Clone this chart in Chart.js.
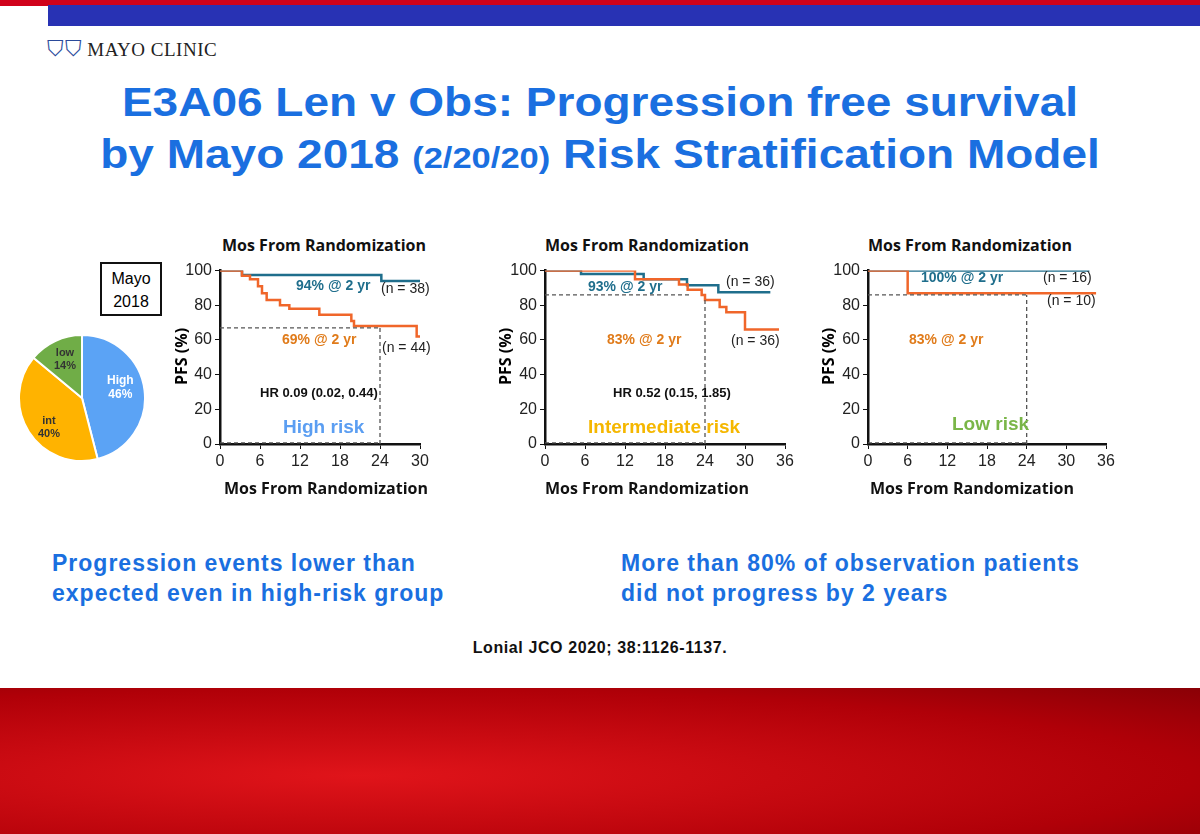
<!DOCTYPE html>
<html><head><meta charset="utf-8">
<script src="https://cdn.jsdelivr.net/npm/chart.js@4"></script>
<style>
body{margin:0;width:1200px;height:834px;position:relative;overflow:hidden;background:#fff;font-family:Arial,"Liberation Sans",sans-serif}
.a{position:absolute;white-space:nowrap}
.t{font-weight:bold;color:#1a6fe0;font-size:40px;left:0;width:1200px;text-align:center;transform:scaleX(1.15)}
.lab{font-weight:bold;font-size:14px}
.mos{font-weight:bold;font-size:16px;color:#111;font-family:"Open Sans",Arial,sans-serif}
.pfs{font-weight:bold;font-size:16px;transform:rotate(-90deg);transform-origin:left top;font-family:"Open Sans",Arial,sans-serif}
.n{font-size:14px;color:#222}
canvas{position:absolute}
.b{font-weight:bold;color:#1a6fe0;font-size:23px;letter-spacing:1px;line-height:30px}
</style></head><body>
<div class="a" style="left:0;top:0;width:1200px;height:6px;background:#d0021b"></div>
<div class="a" style="left:48px;top:5px;width:1152px;height:21px;background:#2832b4"></div>
<div class="a" style="left:47px;top:36px;font-family:'Liberation Serif',serif;font-size:19px;color:#222;letter-spacing:0.5px"><span style="color:#2a4a9a;font-size:22px">⛉⛉</span> MAYO CLINIC</div>
<div class="a t" style="top:80px">E3A06 Len v Obs: Progression free survival</div>
<div class="a t" style="top:132px">by Mayo 2018 <span style="font-size:30px">(2/20/20)</span> Risk Stratification Model</div>

<div class="a" style="left:100px;top:262px;width:62px;height:54px;border:2px solid #111;font-size:16px;text-align:center;line-height:23px;padding-top:3px;box-sizing:border-box">Mayo<br>2018</div>
<canvas id="pie" style="left:16px;top:332px;width:132px;height:132px"></canvas>
<div class="a lab" style="left:54px;top:346px;font-size:11px;color:#333;text-align:center;line-height:13px">low<br>14%</div>
<div class="a lab" style="left:107px;top:373px;font-size:12px;color:#fff;text-align:center;line-height:14px">High<br>46%</div>
<div class="a lab" style="left:38px;top:414px;font-size:11px;color:#333;text-align:center;line-height:13px">int<br>40%</div>

<canvas id="c1" style="left:170px;top:258px;width:270px;height:220px"></canvas>
<canvas id="c2" style="left:495px;top:258px;width:310px;height:220px"></canvas>
<canvas id="c3" style="left:818px;top:258px;width:308px;height:220px"></canvas>

<div class="a mos" style="left:222px;top:234px">Mos From Randomization</div>
<div class="a mos" style="left:545px;top:234px">Mos From Randomization</div>
<div class="a mos" style="left:868px;top:234px">Mos From Randomization</div>
<div class="a mos" style="left:224px;top:477px">Mos From Randomization</div>
<div class="a mos" style="left:545px;top:477px">Mos From Randomization</div>
<div class="a mos" style="left:870px;top:477px">Mos From Randomization</div>
<div class="a pfs" style="left:170px;top:385px">PFS (%)</div>
<div class="a pfs" style="left:494px;top:385px">PFS (%)</div>
<div class="a pfs" style="left:817px;top:385px">PFS (%)</div>

<div class="a lab" style="left:296px;top:277px;color:#1f6e8c">94% @ 2 yr</div>
<div class="a n" style="left:381px;top:280px">(n = 38)</div>
<div class="a lab" style="left:282px;top:331px;color:#e07b1a">69% @ 2 yr</div>
<div class="a n" style="left:382px;top:339px">(n = 44)</div>
<div class="a lab" style="left:260px;top:385px;font-size:13px;color:#111">HR 0.09 (0.02, 0.44)</div>
<div class="a lab" style="left:283px;top:416px;font-size:19px;color:#5b9ef2">High risk</div>

<div class="a lab" style="left:588px;top:278px;color:#1f6e8c">93% @ 2 yr</div>
<div class="a n" style="left:726px;top:273px">(n = 36)</div>
<div class="a lab" style="left:607px;top:331px;color:#e07b1a">83% @ 2 yr</div>
<div class="a n" style="left:731px;top:332px">(n = 36)</div>
<div class="a lab" style="left:613px;top:385px;font-size:13px;color:#111">HR 0.52 (0.15, 1.85)</div>
<div class="a lab" style="left:588px;top:416px;font-size:19px;color:#f5b700">Intermediate risk</div>

<div class="a lab" style="left:921px;top:269px;color:#1f6e8c">100% @ 2 yr</div>
<div class="a n" style="left:1043px;top:269px">(n = 16)</div>
<div class="a n" style="left:1047px;top:292px">(n = 10)</div>
<div class="a lab" style="left:909px;top:331px;color:#e07b1a">83% @ 2 yr</div>
<div class="a lab" style="left:952px;top:413px;font-size:19px;color:#7ab648">Low risk</div>

<div class="a b" style="left:52px;top:548px">Progression events lower than<br>expected even in high-risk group</div>
<div class="a b" style="left:621px;top:548px">More than 80% of observation patients<br>did not progress by 2 years</div>
<div class="a" style="left:0;width:1200px;text-align:center;top:639px;font-weight:bold;font-size:16px;letter-spacing:0.6px;color:#111">Lonial JCO 2020; 38:1126-1137.</div>
<div class="a" style="left:0;top:688px;width:1200px;height:146px;background:radial-gradient(ellipse at 30% 60%,#e0141a,#b00008 70%,#8a0006)"></div>

<script>
// Pie
const pieLabels=["High","int","low"];
const pieValues=[46,40,14];
// High risk (months, PFS %)
const hiLenX=[0,3.3,24.2,31];   const hiLenY=[100,97.5,94,94];
const hiObsX=[0,3.3,4.5,5.7,6.3,7,9,10.4,14.9,19.7,20.1,29.5,30.8];
const hiObsY=[100,97,95,91,87,83,80,78,74.5,71,68,62,62];
// Intermediate risk
const intLenX=[0,5.4,14.8,21.3,26,33.8]; const intLenY=[100,98,95,91.5,87.5,87.5];
const intObsX=[0,13.5,20.1,21.4,23.5,24,26.2,27.2,30,35.1];
const intObsY=[100,95,92,89,86,83,79,76,66,66];
// Low risk
const lowLenX=[0,33.5]; const lowLenY=[100,100];
const lowObsX=[0,6,34.5]; const lowObsY=[100,87,87];
// 2-yr reference values
const refs=[{h:67,v:67,hx:24},{h:86,v:83,hx:22},{h:86,v:86,hx:24}];

new Chart(document.getElementById('pie'),{type:'pie',data:{labels:pieLabels,datasets:[{data:pieValues,backgroundColor:['#5ba3f5','#ffb300','#70ad47'],borderColor:'#fff',borderWidth:2}]},
 options:{responsive:false,animation:false,plugins:{legend:{display:false},tooltip:{enabled:false}},layout:{padding:2}}});

const teal='#1f6e8c', orng='#f0662a';
function pts(xs,ys){return xs.map((x,i)=>({x,y:ys[i]}));}
function km(id,max,lx,ly,ox,oy,r){
 const dash={borderColor:'#555',borderWidth:1.3,borderDash:[4,3],pointRadius:0,fill:false};
 new Chart(document.getElementById(id),{type:'line',data:{datasets:[
  Object.assign({data:[{x:0,y:r.h},{x:r.hx,y:r.h}]},dash),
  Object.assign({data:[{x:24,y:0},{x:24,y:r.v}]},dash),
  Object.assign({data:[{x:0,y:0.6},{x:24,y:0.6}]},dash),
  {data:pts(ox,oy),stepped:'before',borderColor:orng,borderWidth:2.5,pointRadius:0},
  {data:pts(lx,ly),stepped:'before',borderColor:teal,borderWidth:2.5,pointRadius:0}
 ]},options:{responsive:false,animation:false,
  layout:{padding:{top:9,right:20,left:0,bottom:0}},
  plugins:{legend:{display:false},tooltip:{enabled:false}},
  scales:{
   x:{type:'linear',min:0,max:max,ticks:{stepSize:6,color:'#222',font:{size:16}},border:{color:'#111',width:2.5},grid:{drawOnChartArea:false,color:'#111',tickLength:5},afterFit:s=>{s.height=34;}},
   y:{min:0,max:100,ticks:{stepSize:20,color:'#222',font:{size:16}},border:{color:'#111',width:2.5},grid:{drawOnChartArea:false,color:'#111',tickLength:5},afterFit:s=>{s.width=50;}}
  }}});
}
km('c1',30,hiLenX,hiLenY,hiObsX,hiObsY,refs[0]);
km('c2',36,intLenX,intLenY,intObsX,intObsY,refs[1]);
km('c3',36,lowLenX,lowLenY,lowObsX,lowObsY,refs[2]);
</script>
</body></html>
